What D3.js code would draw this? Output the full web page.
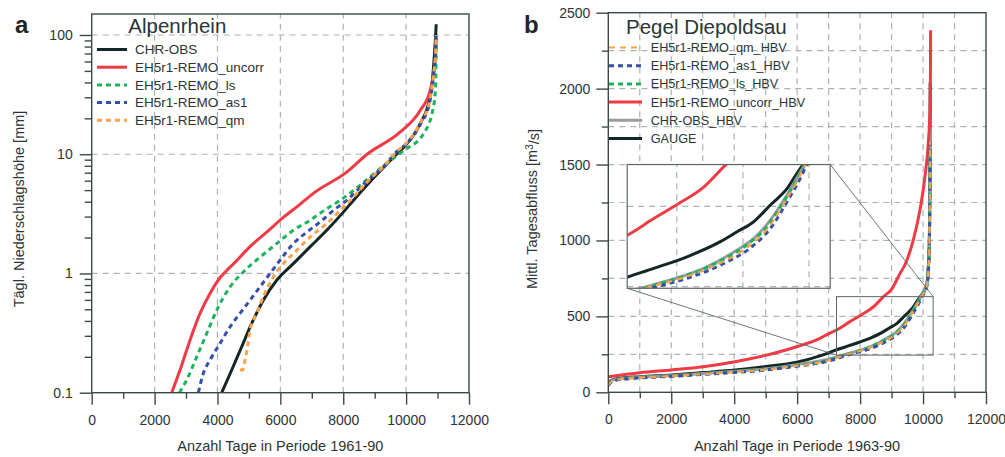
<!DOCTYPE html>
<html><head><meta charset="utf-8">
<script src="https://cdn.jsdelivr.net/npm/d3@7"></script>
<style>
body{margin:0;background:#fff;}
svg{display:block;font-family:"Liberation Sans",Arial,Helvetica,sans-serif;}
</style></head><body>
<svg id="chart" width="1005" height="457"></svg>
<script>
// ---------------- DATA ----------------
// Panel a: Alpenrhein, daily precipitation [mm] vs. number of days (1961-90)
const leftXTicks = [0, 2000, 4000, 6000, 8000, 10000, 12000];
const leftYTicks = [0.1, 1, 10, 100];
const leftYTickLabels = ["0.1", "1", "10", "100"];
const leftNames = ["CHR-OBS", "EH5r1-REMO_uncorr", "EH5r1-REMO_ls", "EH5r1-REMO_as1", "EH5r1-REMO_qm"];

const chrObs = [[4135,0.1],[4453,0.155],[4771,0.243],[5089,0.381],[5458,0.597],[5884,0.877],[6413,1.21],[6943,1.67],[7475,2.3],[8003,3.27],[8321,4.1],[8750,5.5],[9590,9.4],[10020,12.2],[10440,17.9],[10760,30],[10870,53],[10930,90],[10957,123]];
const remoUncorr = [[2545,0.1],[2809,0.155],[3127,0.276],[3445,0.462],[3763,0.679],[4081,0.92],[4294,1.06],[4505,1.2],[5035,1.68],[5566,2.22],[6094,2.95],[6625,3.8],[7049,4.7],[8110,7.07],[8747,9.94],[9806,15.3],[10443,23.2],[10760,34],[10866,45.6],[10940,70],[10957,95]];
const remoLs = [[2790,0.1],[3021,0.128],[3340,0.2],[3658,0.314],[4028,0.525],[4399,0.771],[4823,1.03],[5353,1.37],[5884,1.78],[6413,2.3],[6943,2.79],[7475,3.49],[7898,4.1],[8500,5.4],[9170,7.55],[9911,10.7],[10549,14.8],[10866,24.7],[10941,38.8],[10952,60],[10957,100]];
const remoAs1 = [[3392,0.1],[3550,0.145],[3763,0.188],[4081,0.259],[4399,0.357],[4717,0.462],[5035,0.597],[5353,0.771],[5671,1.0],[5989,1.29],[6413,1.78],[6838,2.22],[7262,2.7],[7685,3.38],[8110,4.1],[8700,5.8],[9300,8.0],[9700,10.5],[10020,12.3],[10440,17.5],[10760,28],[10880,48],[10945,75],[10957,100]];
const remoQm = [[4717,0.155],[4800,0.155],[4876,0.188],[4930,0.222],[5035,0.335],[5248,0.462],[5458,0.636],[5777,0.935],[6094,1.21],[6520,1.56],[6943,2.02],[7475,2.62],[8003,3.6],[8400,4.6],[8800,6.0],[9300,8.0],[9700,10.5],[10020,12.5],[10440,18],[10760,29],[10880,48],[10945,75],[10957,100]];

// Panel b: Pegel Diepoldsau, mean daily discharge [m3/s] vs. number of days (1963-90)
const rightXTicks = [0, 2000, 4000, 6000, 8000, 10000, 12000];
const rightYTicks = [0, 500, 1000, 1500, 2000, 2500];
const rightNames = ["EH5r1-REMO_qm_HBV", "EH5r1-REMO_as1_HBV", "EH5r1-REMO_ls_HBV", "EH5r1-REMO_uncorr_HBV", "CHR-OBS_HBV", "GAUGE"];
const zoomRegion = [[7250, 10320], [245, 630]];   // region shown enlarged in the inset
const insetPlace = [[600, 7050], [685, 1500]];    // where the inset sits (main-axis units)
const insetXGrid = [8000, 9000, 10000];
const insetYGrid = [250, 500];

const gauge = [[0,60],[159,85],[1006,103],[2013,114],[3018,130],[4025,147],[5032,170],[5985,198],[6725,240],[7256,280],[7652,307],[8156,343],[8659,390],[8912,421],[9163,452],[9415,504],[9667,555],[9868,618],[9918,632],[10006,658],[10114,705],[10160,800],[10197,980],[10219,1418],[10227,2040]];
const chrObsHbv = [[0,55],[159,82],[1006,100],[2013,110],[3018,124],[4025,138],[5032,155],[5985,182],[6989,218],[7451,245],[7905,271],[8408,307],[8912,364],[9163,400],[9415,457],[9667,535],[9868,607],[9931,630],[10020,662],[10114,703],[10165,800],[10200,980],[10220,1418],[10227,1750]];
const uncorrHbv = [[0,103],[1006,129],[2013,147],[3018,168],[4025,201],[5032,245],[5985,300],[6725,355],[6989,385],[7250,410],[7652,462],[8030,509],[8408,560],[8735,628],[9003,680],[9262,780],[9425,840],[9689,1002],[9900,1199],[10059,1418],[10165,1638],[10219,1857],[10235,2100],[10240,2384]];
const lsHbv = [[0,50],[159,79],[1006,98],[2013,108],[3018,121],[4025,135],[5032,151],[5985,177],[6989,211],[7490,245],[8060,279],[8560,320],[9060,380],[9350,433],[9620,516],[9840,592],[9940,630],[10045,665],[10116,700],[10167,800],[10201,980],[10220,1418],[10227,1600]];
const as1Hbv = [[0,45],[159,76],[1006,95],[2013,105],[3018,118],[4025,131],[5032,147],[5985,172],[6989,205],[7603,245],[8156,276],[8659,317],[9163,379],[9415,431],[9667,514],[9868,587],[9969,630],[10060,665],[10120,700],[10170,800],[10203,980],[10221,1418],[10227,1650]];
const qmHbv = [[0,47],[159,78],[1006,97],[2013,107],[3018,120],[4025,133],[5032,149],[5985,175],[6989,208],[7527,245],[8100,278],[8600,318],[9100,378],[9380,432],[9640,515],[9850,590],[9950,630],[10050,665],[10118,700],[10168,800],[10202,980],[10221,1418],[10227,1650]];

// ---------------- STYLE ----------------
const C = {black:"#142625", red:"#ee3b45", green:"#1db35b", blue:"#3550a6", orange:"#f7a24d", gray:"#989c9e"};
const axisColor = "#3d4949", gridColor = "#aab3b6", textColor = "#2b3535";

const svg = d3.select("#chart");

function grid(g, xs, ys, xVals, yVals) {
  g.selectAll(null).data(xVals).join("line")
    .attr("x1", d => xs(d)).attr("x2", d => xs(d))
    .attr("y1", ys.range()[0]).attr("y2", ys.range()[1])
    .attr("stroke", gridColor).attr("stroke-width", 1.2).attr("stroke-dasharray", "6,5");
  g.selectAll(null).data(yVals).join("line")
    .attr("y1", d => ys(d)).attr("y2", d => ys(d))
    .attr("x1", xs.range()[0]).attr("x2", xs.range()[1])
    .attr("stroke", gridColor).attr("stroke-width", 1.2).attr("stroke-dasharray", "6,5");
}

function styleAxis(g) {
  g.select(".domain").remove();
  g.selectAll(".tick line").attr("stroke", axisColor).attr("stroke-width", 1.4);
  g.selectAll(".tick text").attr("fill", textColor).style("font-size", "14px")
    .style("font-family", "'Liberation Sans', Arial, sans-serif");
}

function frame(xs, ys) {
  const [x0, x1] = xs.range(), [y0, y1] = ys.range();
  svg.append("rect").attr("x", x0).attr("y", y1).attr("width", x1 - x0).attr("height", y0 - y1)
    .attr("fill", "none").attr("stroke", axisColor).attr("stroke-width", 1.4);
}

function legend(items, x0, x1, tx, y0, dy, fs) {
  const g = svg.append("g");
  items.forEach((it, i) => {
    const y = y0 + i * dy;
    g.append("line").attr("x1", x0).attr("x2", x1).attr("y1", y).attr("y2", y)
      .attr("stroke", it.color).attr("stroke-width", it.w).attr("stroke-dasharray", it.dash || null);
    g.append("text").attr("x", tx).attr("y", y).attr("dy", "0.36em")
      .attr("fill", textColor).style("font-size", fs).text(it.name);
  });
}

// ---------------- PANEL A ----------------
const xL = d3.scaleLinear().domain([0, 12000]).range([91.7, 469]);
const yL = d3.scaleLog().domain([0.1, 150]).range([392.7, 14]);

const gA = svg.append("g");
grid(gA, xL, yL, [2000, 4000, 6000, 8000, 10000], [1, 10, 100]);

svg.append("clipPath").attr("id", "clipA").append("rect")
  .attr("x", 91.7).attr("y", 14).attr("width", 469 - 91.7).attr("height", 392.7 - 14);

const lineL = d3.line().x(d => xL(d[0])).y(d => yL(d[1])).curve(d3.curveMonotoneX);
const seriesL = [
  {data: chrObs, color: C.black, w: 3, dash: null},
  {data: remoUncorr, color: C.red, w: 3, dash: null},
  {data: remoLs, color: C.green, w: 3, dash: "5,4"},
  {data: remoAs1, color: C.blue, w: 3, dash: "5,4"},
  {data: remoQm, color: C.orange, w: 3, dash: "5,4"}
];
const gLines = svg.append("g").attr("clip-path", "url(#clipA)");
seriesL.forEach(s => {
  gLines.append("path").attr("d", lineL(s.data)).attr("fill", "none")
    .attr("stroke", s.color).attr("stroke-width", s.w).attr("stroke-dasharray", s.dash);
});

// axes
const minorLog = [];
[0.1, 1, 10].forEach(b => { for (let k = 2; k <= 9; k++) minorLog.push(+(b * k).toPrecision(3)); });
svg.append("g").attr("transform", "translate(91.7,0)")
  .call(d3.axisLeft(yL).tickValues(minorLog).tickSize(7).tickFormat("")).call(styleAxis);
svg.append("g").attr("transform", "translate(91.7,0)")
  .call(d3.axisLeft(yL).tickValues(leftYTicks).tickSize(12).tickPadding(7)
    .tickFormat((d, i) => leftYTickLabels[i])).call(styleAxis);
svg.append("g").attr("transform", "translate(0,392.7)")
  .call(d3.axisBottom(xL).tickValues(d3.range(1000, 12000, 2000)).tickSize(6).tickFormat("")).call(styleAxis);
svg.append("g").attr("transform", "translate(0,392.7)")
  .call(d3.axisBottom(xL).tickValues(leftXTicks).tickSize(12).tickPadding(10).tickFormat(d3.format("d"))).call(styleAxis);
frame(xL, yL);

svg.append("text").attr("x", 128.3).attr("y", 33).attr("fill", textColor)
  .style("font-size", "20.5px").text("Alpenrhein");
svg.append("text").attr("x", 15).attr("y", 33).attr("fill", "#1e2626")
  .style("font-size", "24px").style("font-weight", "bold").text("a");

legend(seriesL.map((s, i) => ({name: leftNames[i], color: s.color, w: s.w, dash: s.dash})),
  97, 127, 135, 49.5, 17.7, "13.5px");

svg.append("text").attr("x", 280.3).attr("y", 450.5).attr("text-anchor", "middle")
  .attr("fill", textColor).style("font-size", "14.5px").text("Anzahl Tage in Periode 1961-90");
svg.append("text").attr("transform", "translate(24,209) rotate(-90)").attr("text-anchor", "middle")
  .attr("fill", textColor).style("font-size", "14.5px").text("Tägl. Niederschlagshöhe [mm]");

// ---------------- PANEL B ----------------
const xR = d3.scaleLinear().domain([0, 12000]).range([608.3, 986]);
const yR = d3.scaleLinear().domain([0, 2500]).range([392.3, 12.7]);

const gB = svg.append("g");
grid(gB, xR, yR, d3.range(1000, 12000, 1000), d3.range(250, 2500, 250));

svg.append("clipPath").attr("id", "clipB").append("rect")
  .attr("x", 608.3).attr("y", 12.7).attr("width", 986 - 608.3).attr("height", 392.3 - 12.7);

const seriesR = [
  {data: qmHbv, color: C.orange, w: 2.2, dash: "6,5"},
  {data: as1Hbv, color: C.blue, w: 3, dash: "5,4"},
  {data: lsHbv, color: C.green, w: 3, dash: "5,4"},
  {data: uncorrHbv, color: C.red, w: 3, dash: null},
  {data: chrObsHbv, color: C.gray, w: 3, dash: null},
  {data: gauge, color: C.black, w: 3, dash: null}
];
const drawOrder = [5, 4, 3, 2, 1, 0];

function drawSeries(g, xs, ys, clipId) {
  const ln = d3.line().x(d => xs(d[0])).y(d => ys(d[1])).curve(d3.curveMonotoneX);
  const gg = g.append("g").attr("clip-path", `url(#${clipId})`);
  drawOrder.forEach(i => {
    const s = seriesR[i];
    gg.append("path").attr("d", ln(s.data)).attr("fill", "none")
      .attr("stroke", s.color).attr("stroke-width", s.w).attr("stroke-dasharray", s.dash);
  });
}
drawSeries(svg, xR, yR, "clipB");

// axes
svg.append("g").attr("transform", "translate(608.3,0)")
  .call(d3.axisLeft(yR).tickValues(d3.range(250, 2500, 500)).tickSize(6.5).tickFormat("")).call(styleAxis);
svg.append("g").attr("transform", "translate(608.3,0)")
  .call(d3.axisLeft(yR).tickValues(rightYTicks).tickSize(12).tickPadding(6).tickFormat(d3.format("d"))).call(styleAxis);
svg.append("g").attr("transform", "translate(0,392.3)")
  .call(d3.axisBottom(xR).tickValues(d3.range(1000, 12000, 2000)).tickSize(6).tickFormat("")).call(styleAxis);
svg.append("g").attr("transform", "translate(0,392.3)")
  .call(d3.axisBottom(xR).tickValues(rightXTicks).tickSize(12).tickPadding(10).tickFormat(d3.format("d"))).call(styleAxis);
frame(xR, yR);

// zoom box in main plot
const zx0 = xR(zoomRegion[0][0]), zx1 = xR(zoomRegion[0][1]);
const zy0 = yR(zoomRegion[1][1]), zy1 = yR(zoomRegion[1][0]);
svg.append("rect").attr("x", zx0).attr("y", zy0).attr("width", zx1 - zx0).attr("height", zy1 - zy0)
  .attr("fill", "none").attr("stroke", "#5d6666").attr("stroke-width", 1);

// inset
const ix0 = xR(insetPlace[0][0]), ix1 = xR(insetPlace[0][1]);
const iy0 = yR(insetPlace[1][1]), iy1 = yR(insetPlace[1][0]);
const xI = d3.scaleLinear().domain(zoomRegion[0]).range([ix0, ix1]);
const yI = d3.scaleLinear().domain(zoomRegion[1]).range([iy1, iy0]);
svg.append("rect").attr("x", ix0).attr("y", iy0).attr("width", ix1 - ix0).attr("height", iy1 - iy0)
  .attr("fill", "#fff");
const gI = svg.append("g");
grid(gI, xI, yI, insetXGrid, insetYGrid);
svg.append("clipPath").attr("id", "clipI").append("rect")
  .attr("x", ix0).attr("y", iy0).attr("width", ix1 - ix0).attr("height", iy1 - iy0);
drawSeries(svg, xI, yI, "clipI");
svg.append("rect").attr("x", ix0).attr("y", iy0).attr("width", ix1 - ix0).attr("height", iy1 - iy0)
  .attr("fill", "none").attr("stroke", "#5d6666").attr("stroke-width", 1.2);

// connectors
svg.append("line").attr("x1", ix1).attr("y1", iy0).attr("x2", zx1).attr("y2", zy0)
  .attr("stroke", "#5d6666").attr("stroke-width", 0.9);
svg.append("line").attr("x1", ix0).attr("y1", iy1).attr("x2", zx0).attr("y2", zy1)
  .attr("stroke", "#5d6666").attr("stroke-width", 0.9);

svg.append("text").attr("x", 626).attr("y", 33.5).attr("fill", textColor)
  .style("font-size", "20.5px").text("Pegel Diepoldsau");
svg.append("text").attr("x", 524).attr("y", 33).attr("fill", "#1e2626")
  .style("font-size", "24px").style("font-weight", "bold").text("b");

legend(seriesR.map((s, i) => ({name: rightNames[i], color: s.color, w: s.w, dash: s.dash})),
  609, 642, 650.7, 47.5, 18.2, "12.7px");

svg.append("text").attr("x", 797).attr("y", 450.5).attr("text-anchor", "middle")
  .attr("fill", textColor).style("font-size", "14.5px").text("Anzahl Tage in Periode 1963-90");
const yt = svg.append("text").attr("transform", "translate(537,209) rotate(-90)").attr("text-anchor", "middle")
  .attr("fill", textColor).style("font-size", "14.5px");
yt.append("tspan").text("Mittl. Tagesabfluss [m");
yt.append("tspan").attr("dy", "-0.45em").style("font-size", "10px").text("3");
yt.append("tspan").attr("dy", "0.45em").text("/s]");
</script>
</body></html>
